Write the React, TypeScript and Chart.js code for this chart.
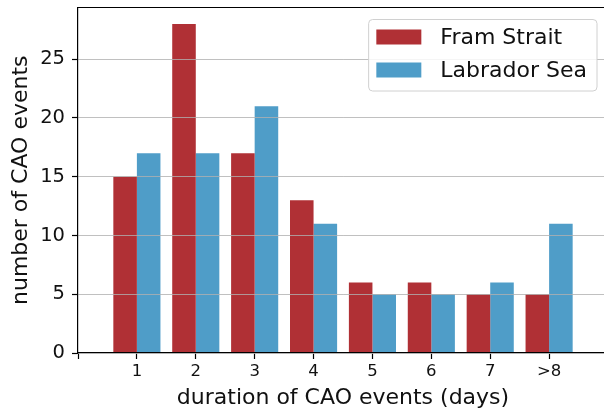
import React, { useEffect, useRef } from "react";
import { Chart, registerables } from "chart.js";

Chart.register(...registerables);

// padded categories: empty slots at both ends give the axis its 0..9 range
const categories: string[] = ["", "1", "2", "3", "4", "5", "6", "7", ">8", ""];
const framStrait: (number | null)[] = [null, 15, 28, 17, 13, 6, 6, 5, 5, null];
const labradorSea: (number | null)[] = [null, 17, 17, 21, 11, 5, 5, 6, 11, null];
const yTicks: number[] = [0, 5, 10, 15, 20, 25];
const yMax = 29.4;

const seriesNames = ["Fram Strait", "Labrador Sea"];
const seriesColors = ["#b03035", "#4f9dc8"];

const FONT = "'DejaVu Sans', sans-serif";

const frameLegendPlugin = {
  id: "frameLegend",
  afterDraw(chart: any) {
    const { ctx, chartArea } = chart;
    ctx.save();
    // top spine
    ctx.strokeStyle = "#000";
    ctx.lineWidth = 1.2;
    ctx.beginPath();
    ctx.moveTo(chartArea.left, chartArea.top);
    ctx.lineTo(chartArea.right, chartArea.top);
    ctx.stroke();

    // legend
    ctx.font = `22px ${FONT}`;
    const labels = chart.data.datasets.map((d: any) => d.label as string);
    const colors = chart.data.datasets.map((d: any) => d.backgroundColor as string);
    const maxW = Math.max(...labels.map((l: string) => ctx.measureText(l).width));
    const padL = 7.7, swW = 45, swH = 15, gap = 19, padR = 10;
    const rowH = 33, firstRow = 17.5, bottomPad = 21;
    const w = padL + swW + gap + maxW + padR;
    const h = firstRow + rowH * (labels.length - 1) + bottomPad;
    const x0 = chartArea.right - 11 - w;
    const y0 = chartArea.top + 12;
    ctx.beginPath();
    (ctx as any).roundRect(x0, y0, w, h, 4);
    ctx.fillStyle = "rgba(255,255,255,0.85)";
    ctx.fill();
    ctx.strokeStyle = "#d0d0d0";
    ctx.lineWidth = 1;
    ctx.stroke();
    labels.forEach((l: string, i: number) => {
      const cy = y0 + firstRow + i * rowH;
      ctx.fillStyle = colors[i];
      ctx.fillRect(x0 + padL, cy - swH / 2, swW, swH);
      ctx.fillStyle = "#111";
      ctx.textBaseline = "middle";
      ctx.textAlign = "left";
      ctx.fillText(l, x0 + padL + swW + gap, cy + 1);
    });
    ctx.restore();
  },
};

export default function App() {
  const ref = useRef<HTMLCanvasElement | null>(null);

  useEffect(() => {
    if (!ref.current) return;
    const chart = new Chart(ref.current, {
      type: "bar",
      data: {
        labels: categories,
        datasets: [
          {
            label: seriesNames[0],
            data: framStrait,
            backgroundColor: seriesColors[0],
            borderWidth: 0,
            categoryPercentage: 0.8,
            barPercentage: 1.0,
          },
          {
            label: seriesNames[1],
            data: labradorSea,
            backgroundColor: seriesColors[1],
            borderWidth: 0,
            categoryPercentage: 0.8,
            barPercentage: 1.0,
          },
        ],
      },
      options: {
        responsive: false,
        animation: false,
        devicePixelRatio: 1,
        layout: { padding: { top: 7.5, left: 0, right: 32, bottom: 0 } },
        plugins: {
          legend: { display: false },
          tooltip: { enabled: false },
        },
        scales: {
          x: {
            type: "category",
            offset: false,
            grid: {
              display: true,
              offset: false,
              drawOnChartArea: false,
              drawTicks: true,
              tickLength: 6,
              tickColor: "#000",
              tickWidth: 1.2,
              z: 1,
            },
            border: { display: true, color: "#000", width: 1.2, z: 1 },
            ticks: {
              color: "#111",
              font: { family: FONT, size: 16.5 },
              padding: 3,
              maxRotation: 0,
              autoSkip: false,
            },
            title: {
              display: true,
              text: "duration of CAO events (days)",
              color: "#111",
              font: { family: FONT, size: 22 },
              padding: { top: 0, bottom: 0 },
            },
            afterFit(scale: any) {
              scale.height = 58;
              scale.paddingLeft = 0;
              scale.paddingRight = 0;
            },
          },
          y: {
            type: "linear",
            min: 0,
            max: yMax,
            afterBuildTicks(scale: any) {
              scale.ticks = yTicks.map((v) => ({ value: v }));
            },
            grid: {
              display: true,
              color: "rgba(176,176,176,0.8)",
              lineWidth: 1,
              drawTicks: true,
              tickLength: 6,
              tickColor: "#000",
              tickWidth: 1.2,
              z: 1,
            },
            border: { display: true, color: "#000", width: 1.2, z: 1 },
            ticks: {
              color: "#111",
              font: { family: FONT, size: 19.5 },
              padding: 7,
            },
            title: {
              display: true,
              text: "number of CAO events",
              color: "#111",
              font: { family: FONT, size: 22 },
              padding: { top: 8, bottom: 0 },
            },
            afterFit(scale: any) {
              scale.width = 78;
              scale.paddingTop = 0;
              scale.paddingBottom = 0;
            },
          },
        },
      },
      plugins: [frameLegendPlugin],
    } as any);
    return () => chart.destroy();
  }, []);

  return (
    <div style={{ position: "fixed", left: 0, top: 0, width: 604, height: 411, overflow: "hidden", background: "#fff" }}>
      <canvas ref={ref} width={640} height={411} style={{ display: "block", width: 640, height: 411 }} />
    </div>
  );
}
